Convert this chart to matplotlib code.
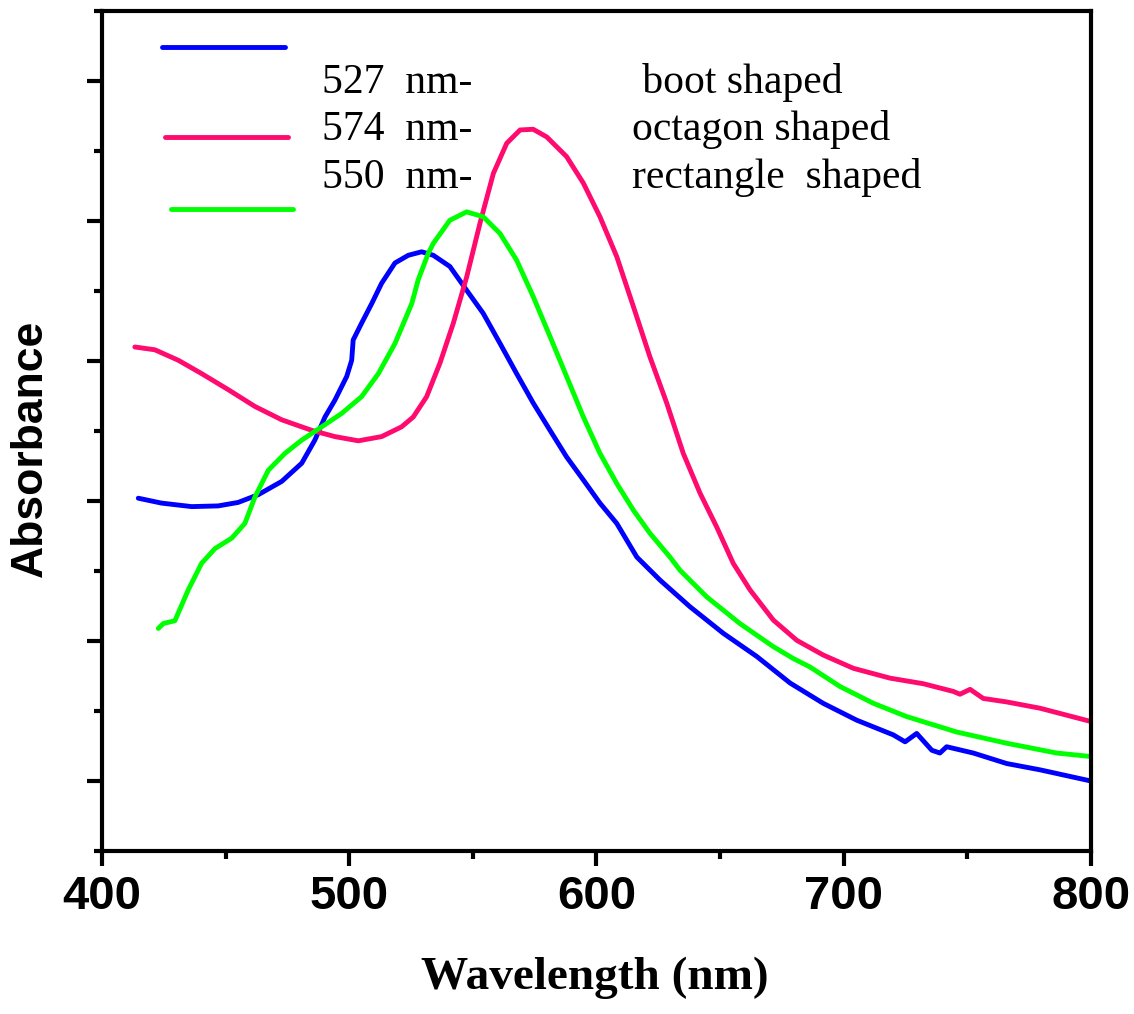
import matplotlib.pyplot as plt
from matplotlib.lines import Line2D
from matplotlib.ticker import MultipleLocator, FixedLocator, NullFormatter

# (wavelength in nm, absorbance in arbitrary units)
boot_wl = [414.7, 424.1, 436.3, 447.0, 455.1, 463.2, 472.7, 480.8, 486.1, 490.2,
           494.2, 499.0, 501.0, 501.6, 505.0, 509.1, 513.1, 518.5, 523.9, 529.3,
           534.0, 540.7, 547.5, 554.2, 561.0, 567.7, 574.4, 581.2, 587.9, 594.7,
           601.4, 608.2, 616.3, 625.7, 637.8, 651.3, 664.8, 678.3, 691.7, 705.2,
           720.0, 724.8, 729.5, 735.6, 738.9, 741.6, 752.4, 765.9, 779.4, 800.0]
boot_abs = [0.504, 0.497, 0.492, 0.493, 0.498, 0.509, 0.528, 0.554, 0.587, 0.620,
            0.644, 0.678, 0.701, 0.730, 0.754, 0.782, 0.811, 0.840, 0.851, 0.856,
            0.851, 0.835, 0.801, 0.768, 0.725, 0.682, 0.640, 0.601, 0.563, 0.530,
            0.497, 0.468, 0.420, 0.387, 0.349, 0.311, 0.278, 0.240, 0.211, 0.187,
            0.166, 0.156, 0.168, 0.144, 0.140, 0.149, 0.140, 0.125, 0.116, 0.100]

oct_wl = [413.3, 421.4, 430.9, 440.3, 451.1, 461.9, 472.7, 484.8, 494.2, 503.7,
          513.1, 521.2, 525.9, 531.3, 536.7, 542.1, 547.5, 552.9, 558.3, 563.7,
          569.1, 574.4, 579.9, 587.9, 594.7, 601.4, 608.2, 614.9, 621.6, 628.4,
          635.1, 641.9, 648.6, 655.3, 662.1, 671.5, 681.0, 691.7, 703.9, 718.7,
          732.2, 744.3, 747.0, 751.1, 756.4, 765.9, 779.4, 800.0]
oct_abs = [0.720, 0.716, 0.701, 0.682, 0.659, 0.635, 0.616, 0.601, 0.592, 0.586,
           0.592, 0.606, 0.620, 0.649, 0.697, 0.754, 0.820, 0.897, 0.968, 1.011,
           1.030, 1.031, 1.020, 0.992, 0.954, 0.906, 0.849, 0.778, 0.706, 0.640,
           0.568, 0.511, 0.463, 0.411, 0.373, 0.330, 0.301, 0.280, 0.261, 0.247,
           0.239, 0.228, 0.224, 0.231, 0.218, 0.213, 0.204, 0.185]

rect_wl = [422.8, 424.8, 429.5, 434.9, 440.3, 445.7, 452.5, 457.8, 461.9, 467.3,
           474.0, 480.8, 488.9, 496.9, 505.0, 511.8, 518.5, 525.3, 527.9, 532.0,
           534.0, 540.7, 547.5, 554.2, 561.0, 567.7, 574.4, 581.2, 587.9, 594.7,
           601.4, 608.2, 614.9, 621.6, 629.7, 633.8, 644.6, 658.0, 671.5, 679.6,
           686.3, 698.5, 712.0, 725.5, 745.7, 765.9, 786.1, 800.0]
rect_abs = [0.318, 0.325, 0.329, 0.373, 0.411, 0.432, 0.447, 0.468, 0.506, 0.544,
            0.568, 0.587, 0.606, 0.625, 0.649, 0.682, 0.725, 0.782, 0.816, 0.854,
            0.868, 0.901, 0.913, 0.906, 0.882, 0.844, 0.792, 0.735, 0.678, 0.620,
            0.568, 0.525, 0.487, 0.454, 0.420, 0.401, 0.363, 0.325, 0.292, 0.275,
            0.263, 0.235, 0.211, 0.192, 0.170, 0.154, 0.140, 0.135]

peaks = ["527  nm-", "574  nm-", "550  nm-"]
shapes = [" boot shaped", "octagon shaped", "rectangle  shaped"]
colors = ["#0000ff", "#ff0a6e", "#00ff00"]

fig = plt.figure(figsize=(11.34, 10.14), dpi=100)
ax = fig.add_axes([0.0899, 0.1607, 0.8722, 0.8285])

style = dict(lw=3.5, solid_joinstyle="round", solid_capstyle="round")
ax.plot(boot_wl, boot_abs, color=colors[0], **style)
ax.plot(oct_wl, oct_abs, color=colors[1], **style)
ax.plot(rect_wl, rect_abs, color=colors[2], **style)

ax.set_xlim(400, 800)
ax.set_ylim(0, 1.2)
ax.xaxis.set_major_locator(MultipleLocator(100))
ax.xaxis.set_minor_locator(MultipleLocator(50))
ax.yaxis.set_major_locator(FixedLocator([0.1, 0.3, 0.5, 0.7, 0.9, 1.1]))
ax.yaxis.set_minor_locator(FixedLocator([0.0, 0.2, 0.4, 0.6, 0.8, 1.0, 1.2]))
ax.yaxis.set_major_formatter(NullFormatter())

for s in ax.spines.values():
    s.set_linewidth(3)
ax.tick_params(which="major", direction="out", length=11, width=3, pad=6)
ax.tick_params(which="minor", direction="out", length=6, width=3)
for lab in ax.get_xticklabels():
    lab.set_fontfamily("Liberation Sans")
    lab.set_fontweight("bold")
    lab.set_fontsize(34)

fig.text(0.5247, 0.0355, "Wavelength (nm)", family="Liberation Serif",
         weight="bold", fontsize=34, ha="center", va="center")
fig.text(0.0265, 0.558, "Absorbance", family="Liberation Sans", weight="bold",
         fontsize=32, rotation=90, ha="center", va="center")

# legend drawn by hand, lines and texts are offset like in the original
line_pos = [(0.1429, 0.2513, 0.9536), (0.1455, 0.2540, 0.8652), (0.1508, 0.2584, 0.7939)]
for (x0, x1, y), c in zip(line_pos, colors):
    fig.add_artist(Line2D([x0, x1], [y, y], color=c, lw=3.5,
                          solid_capstyle="round", transform=fig.transFigure))
text_y = [0.9083, 0.8619, 0.8146]
for p, sh, y in zip(peaks, shapes, text_y):
    fig.text(0.284, y, p, family="Liberation Serif", fontsize=30, va="baseline")
    fig.text(0.557, y, sh, family="Liberation Serif", fontsize=30, va="baseline")

fig.savefig("out.png", dpi=100)
